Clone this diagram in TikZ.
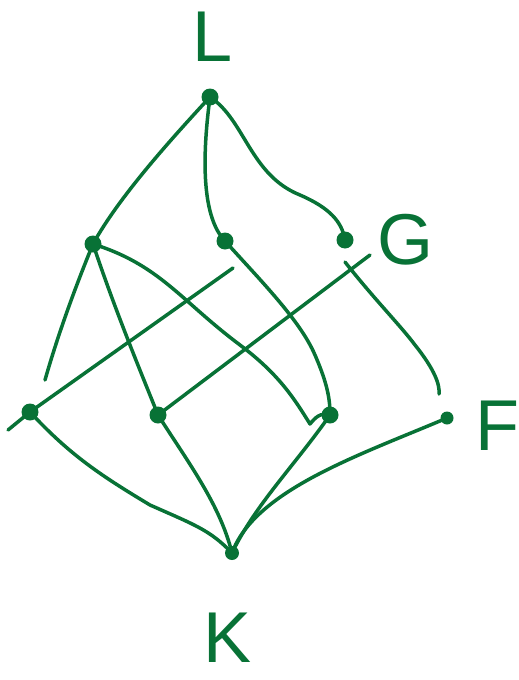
\documentclass[tikz,border=0pt]{standalone}
\usepackage{fontspec}
\setmainfont{Liberation Sans}
\definecolor{ink}{RGB}{8,114,54}
\begin{document}
\begin{tikzpicture}[x=1pt,y=-1pt,
  edge/.style={draw=ink,line width=3.5pt,line cap=round,line join=round},
  dot/.style={circle,fill=ink,inner sep=0pt,minimum size=17pt},
  lbl/.style={text=ink,font=\fontsize{72}{76}\selectfont,inner sep=0pt}]
\useasboundingbox (0,0) rectangle (519,680);
% vertices
\node[dot] (top) at (210,97) {};
\node[dot] (m1) at (93,244) {};
\node[dot] (m2) at (225,241) {};
\node[dot] (m3) at (345,240) {};
\node[dot] (b1) at (30,412) {};
\node[dot] (b2) at (158,415) {};
\node[dot] (b3) at (330,415) {};
\node[dot,minimum size=13pt] (b4) at (447,418) {};
\node[dot,minimum size=14pt] (bot) at (232,553) {};
% labels
\node[lbl] (L) at (213,37) {L};
\node[lbl] (G) at (405,240) {G};
\node[lbl] (F) at (497,426) {F};
\node[lbl] (K) at (228,638) {K};
% free ends
\coordinate (e1) at (45,380);
\coordinate (c1) at (233,268);
\coordinate (c2) at (8,430);
\coordinate (c3) at (370,255);
\coordinate (c4) at (345,262);
\coordinate (c5) at (439,394);
% edges
\draw[edge] (top.center) .. controls (175,135) and (120,195) .. (m1.center);
\draw[edge] (top.center) .. controls (203,150) and (200,215) .. (m2.center);
\draw[edge] (top.center) .. controls (245,120) and (250,175) .. (300,195) .. controls (330,208) and (342,222) .. (m3.center);
\draw[edge] (m1.center) .. controls (70,300) and (55,345) .. (e1);
\draw[edge] (m1.center) .. controls (115,310) and (140,370) .. (b2.center);
\draw[edge] (m1.center) .. controls (160,265) and (180,300) .. (240,345) .. controls (280,375) and (295,400) .. (310,424) .. controls (315,418) and (320,412) .. (b3.center);
\draw[edge] (m2.center) .. controls (260,280) and (300,320) .. (315,355) .. controls (328,385) and (330,400) .. (b3.center);
\draw[edge] (c1) -- (b1.center) -- (c2);
\draw[edge] (c3) -- (b2.center);
\draw[edge] (c4) .. controls (375,300) and (400,325) .. (415,345) .. controls (435,370) and (440,385) .. (c5);
\draw[edge] (b1.center) .. controls (70,455) and (100,475) .. (150,505) .. controls (195,525) and (210,530) .. (bot.center);
\draw[edge] (b2.center) .. controls (190,465) and (220,505) .. (bot.center);
\draw[edge] (b3.center) .. controls (295,465) and (255,505) .. (bot.center);
\draw[edge] (b4.center) .. controls (360,455) and (255,490) .. (bot.center);
\end{tikzpicture}
\end{document}
